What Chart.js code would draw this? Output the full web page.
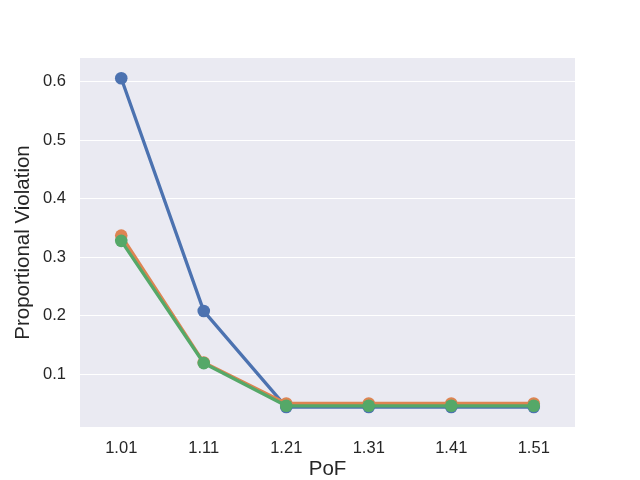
<!DOCTYPE html>
<html>
<head>
  <script src="https://cdn.jsdelivr.net/npm/chart.js"></script>
  <style>
    html, body { margin: 0; padding: 0; background: #fff; }
    #wrap { width: 640px; height: 480px; }
  </style>
</head>
<body>
  <div id="wrap"><canvas id="pofChart" width="640" height="480"></canvas></div>
  <script>
    // Data
    const pofLabels = ['1.01', '1.11', '1.21', '1.31', '1.41', '1.51'];
    const seriesBlue = [0.606, 0.208, 0.044, 0.044, 0.044, 0.044];
    const seriesOrange = [0.337, 0.120, 0.050, 0.050, 0.050, 0.050];
    const seriesGreen = [0.328, 0.119, 0.046, 0.046, 0.046, 0.046];
    const yTicks = [0.1, 0.2, 0.3, 0.4, 0.5, 0.6];

    // Fond gris du panneau
    const panelBg = {
      id: 'panelBg',
      beforeDraw(chart) {
        const a = chart.chartArea;
        const c = chart.ctx;
        c.save();
        c.fillStyle = '#eaeaf2';
        c.fillRect(a.left, a.top, a.right - a.left, a.bottom - a.top);
        c.restore();
      }
    };

    const mkSet = (data, color, order) => ({
      data: data,
      borderColor: color,
      backgroundColor: color,
      borderWidth: 3.3,
      pointRadius: 6.3,
      pointBorderWidth: 0,
      pointHoverRadius: 6.3,
      tension: 0,
      order: order
    });

    Chart.defaults.font.family = '"Liberation Sans", Arial, sans-serif';

    new Chart(document.getElementById('pofChart'), {
      type: 'line',
      data: {
        labels: pofLabels,
        datasets: [
          mkSet(seriesBlue, '#4c72b0', 2),
          mkSet(seriesOrange, '#dd8452', 1),
          mkSet(seriesGreen, '#55a868', 0)
        ]
      },
      options: {
        responsive: false,
        animation: false,
        layout: { padding: { top: 58, right: 65, bottom: 0, left: 0 } },
        plugins: { legend: { display: false }, tooltip: { enabled: false } },
        scales: {
          x: {
            offset: true,
            grid: { display: false, drawTicks: false },
            border: { display: false },
            ticks: { color: '#262626', font: { size: 16.5 }, padding: 12 },
            title: { display: true, text: 'PoF', color: '#262626', font: { size: 20.5, lineHeight: 1 }, padding: { top: 0, bottom: 0 } },
            afterFit(axis) { axis.height = 53; }
          },
          y: {
            min: 0.0098,
            max: 0.6406,
            grid: { color: '#ffffff', lineWidth: 1, drawTicks: false },
            border: { display: false },
            afterBuildTicks(axis) { axis.ticks = yTicks.map(v => ({ value: v })); },
            ticks: {
              color: '#262626',
              font: { size: 16.5 },
              padding: 14,
              callback: v => v.toFixed(1)
            },
            title: { display: true, text: 'Proportional Violation', color: '#262626', font: { size: 20.5, lineHeight: 1 }, padding: { top: 13, bottom: 0 } },
            afterFit(axis) { axis.width = 80; }
          }
        }
      },
      plugins: [panelBg]
    });
  </script>
</body>
</html>
